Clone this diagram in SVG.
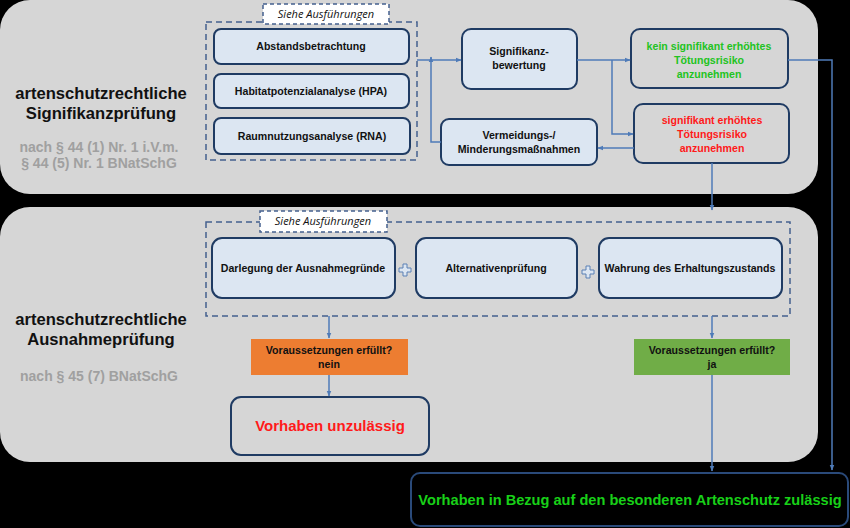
<svg xmlns="http://www.w3.org/2000/svg" width="850" height="528" viewBox="0 0 850 528">
<style>
.panel{fill:#d6d6d6}
.box{fill:#dce6f2;stroke:#1f3b63;stroke-width:2}
.gbox{fill:#d6d6d6;stroke:#1f3b63;stroke-width:2}
.dash{fill:none;stroke:#44608f;stroke-width:1.5;stroke-dasharray:6,4}
.lbl{fill:#ffffff;stroke:#44608f;stroke-width:1.5;stroke-dasharray:4,3}
.con{fill:none;stroke:#4f7bb8;stroke-width:1.5;marker-end:url(#ah)}
text{font-family:"Liberation Sans",Arial,sans-serif;text-anchor:middle}
.t{font-size:10.6px;font-weight:bold;fill:#111}
.h{font-size:16.6px;font-weight:bold;fill:#111}
.s{font-size:14px;font-weight:bold;fill:#a0a0a0}
.i{font-family:"Open Sans","DejaVu Sans",sans-serif;font-size:11px;font-style:italic;fill:#111}
.plus{fill:#dce6f2;stroke:#5a80b5;stroke-width:1}
</style>
<defs>
<marker id="ah" viewBox="0 0 10 10" refX="9" refY="5" markerWidth="6" markerHeight="6" orient="auto" markerUnits="userSpaceOnUse">
<path d="M0,1 L10,5 L0,9 z" fill="#4f7bb8"/>
</marker>
</defs>
<rect x="0" y="0" width="850" height="528" fill="#000"/>
<g id="panel-top"><rect class="panel" x="0" y="0" width="818" height="194" rx="30"/></g>
<g id="panel-bottom"><rect class="panel" x="0" y="207" width="818" height="255" rx="30"/></g>

<g id="title-top">
<text class="h" x="101" y="99">artenschutzrechtliche</text>
<text class="h" x="101" y="119">Signifikanzprüfung</text>
<text class="s" x="99" y="152">nach § 44 (1) Nr. 1 i.V.m.</text>
<text class="s" x="99" y="168">§ 44 (5) Nr. 1 BNatSchG</text>
</g>
<g id="title-bottom">
<text class="h" x="101" y="325">artenschutzrechtliche</text>
<text class="h" x="101" y="345">Ausnahmeprüfung</text>
<text class="s" x="99" y="381">nach § 45 (7) BNatSchG</text>
</g>

<g id="group-top">
<rect class="dash" x="206" y="22" width="211" height="138"/>
<rect class="lbl" x="263" y="4" width="126" height="20"/>
<text class="i" x="326" y="18">Siehe Ausführungen</text>
</g>
<g id="abstand"><rect class="box" x="214" y="29" width="195" height="35" rx="7"/><text class="t" x="311" y="50">Abstandsbetrachtung</text></g>
<g id="hpa"><rect class="box" x="214" y="74" width="195" height="34" rx="7"/><text class="t" x="311" y="95">Habitatpotenzialanalyse (HPA)</text></g>
<g id="rna"><rect class="box" x="214" y="118" width="196" height="36" rx="7"/><text class="t" x="312" y="140">Raumnutzungsanalyse (RNA)</text></g>

<g id="signifikanz"><rect class="box" x="462" y="29" width="115" height="60" rx="9"/><text class="t" x="519" y="55">Signifikanz-</text><text class="t" x="519" y="69">bewertung</text></g>
<g id="kein"><rect class="gbox" x="631" y="29" width="157" height="59" rx="9"/>
<text class="t" x="709" y="50" style="fill:#22c322">kein signifikant erhöhtes</text>
<text class="t" x="709" y="64" style="fill:#22c322">Tötungsrisiko</text>
<text class="t" x="709" y="78" style="fill:#22c322">anzunehmen</text></g>
<g id="erhoeht"><rect class="gbox" x="634" y="104" width="155" height="59" rx="9"/>
<text class="t" x="712" y="124" style="fill:#ff1a1a">signifikant erhöhtes</text>
<text class="t" x="712" y="138" style="fill:#ff1a1a">Tötungsrisiko</text>
<text class="t" x="712" y="152" style="fill:#ff1a1a">anzunehmen</text></g>
<g id="vermeidung"><rect class="box" x="441" y="119" width="156" height="46" rx="8"/>
<text class="t" x="519" y="139">Vermeidungs-/</text><text class="t" x="519" y="153">Minderungsmaßnahmen</text></g>

<g id="group-bottom">
<rect class="dash" x="206" y="222" width="584" height="94"/>
<rect class="lbl" x="260" y="211" width="127" height="21"/>
<text class="i" x="323" y="225">Siehe Ausführungen</text>
</g>
<g id="darlegung"><rect class="box" x="212" y="238" width="183" height="60" rx="10"/><text class="t" x="303" y="272">Darlegung der Ausnahmegründe</text></g>
<g id="alternativ"><rect class="box" x="416" y="238" width="161" height="60" rx="10"/><text class="t" x="496" y="272">Alternativenprüfung</text></g>
<g id="wahrung"><rect class="box" x="599" y="238" width="183" height="60" rx="10"/><text class="t" x="690" y="272">Wahrung des Erhaltungszustands</text></g>
<g id="plus1"><path class="plus" d="M403,264 h4 v4 h4 v4 h-4 v4 h-4 v-4 h-4 v-4 h4 z"/></g>
<g id="plus2"><path class="plus" d="M586,266 h4 v4 h4 v4 h-4 v4 h-4 v-4 h-4 v-4 h4 z"/></g>

<g id="nein"><rect x="251" y="339" width="157" height="36" fill="#ed7d31"/>
<text class="t" x="329" y="354">Voraussetzungen erfüllt?</text><text class="t" x="329" y="368">nein</text></g>
<g id="ja"><rect x="634" y="339" width="156" height="36" fill="#70ad47"/>
<text class="t" x="712" y="354">Voraussetzungen erfüllt?</text><text class="t" x="712" y="368">ja</text></g>
<g id="unzulaessig"><rect class="gbox" x="231" y="397" width="198" height="58" rx="10"/>
<text x="330" y="431" style="font-size:15px;font-weight:bold;fill:#ff1a1a">Vorhaben unzulässig</text></g>
<g id="zulaessig"><rect x="411" y="473" width="437" height="53" rx="9" fill="#000" stroke="#2a4a7a" stroke-width="2"/>
<text x="630" y="505" style="font-size:14.6px;font-weight:bold;fill:#18d018">Vorhaben in Bezug auf den besonderen Artenschutz zulässig</text></g>

<g id="connectors">
<path class="con" d="M417,60 H461"/>
<path class="con" d="M441,142 H431 V57"/>
<path class="con" d="M577,60 H630"/>
<path class="con" d="M612,60 V134 H633"/>
<path class="con" d="M634,148 H598"/>
<path class="con" d="M788,60 H832 V470"/>
<path class="con" d="M712,163 V210"/>
<path class="con" d="M329,316 V338"/>
<path class="con" d="M329,375 V396"/>
<path class="con" d="M712,316 V338"/>
<path class="con" d="M712,375 V471"/>
</g>
</svg>
